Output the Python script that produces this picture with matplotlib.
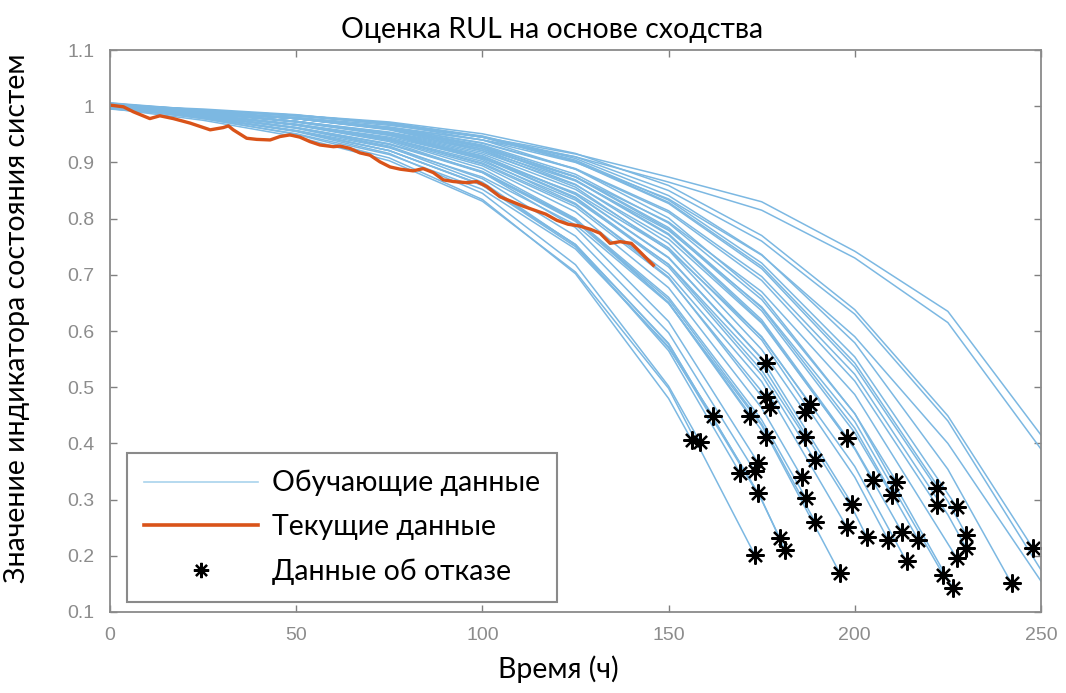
import matplotlib
matplotlib.use('Agg')
import matplotlib.pyplot as plt
from matplotlib.lines import Line2D

# Time grid (hours) at which the training curves were read
grid_t = [0, 25, 50, 75, 100, 125, 150, 175, 200, 225, 250]

# Training runs: values on the grid up to the failure time
train_y = [
    [1.000, .978, .950, .908, .834, .702, .480],
    [.997, .980, .955, .916, .845, .718, .502],
    [1.004, .980, .956, .921, .859, .750, .570],
    [.995, .982, .961, .927, .865, .753, .565],
    [1.002, .985, .967, .939, .889, .800, .650],
    [.998, .982, .961, .929, .871, .769, .597],
    [.996, .975, .946, .903, .831, .705, .498],
    [1.003, .985, .966, .937, .882, .784, .617],
    [.999, .980, .956, .921, .860, .754, .577],
    [1.006, .988, .973, .950, .912, .844, .731],
    [1.001, .985, .967, .942, .897, .821, .694],
    [.997, .983, .962, .932, .882, .795, .651],
    [1.004, .988, .972, .948, .905, .827, .696],
    [.998, .978, .951, .914, .852, .746, .572, .299],
    [1.000, .980, .956, .921, .860, .754, .578, .300],
    [1.002, .985, .967, .940, .894, .812, .677, .463],
    [.998, .988, .972, .950, .909, .838, .718, .530],
    [1.005, .990, .978, .958, .921, .856, .744, .567],
    [.996, .983, .962, .933, .884, .799, .660, .442],
    [1.003, .990, .978, .959, .924, .861, .756, .589],
    [1.000, .988, .972, .949, .908, .836, .714, .522],
    [.997, .983, .962, .933, .883, .797, .656, .435],
    [1.001, .980, .957, .926, .874, .789, .649, .432],
    [1.004, .990, .978, .959, .927, .868, .771, .616],
    [.999, .985, .967, .942, .899, .825, .702, .510],
    [1.002, .988, .973, .950, .911, .843, .730, .551],
    [.998, .985, .968, .943, .902, .833, .719, .541, .276],
    [1.003, .990, .978, .960, .927, .869, .773, .620, .392],
    [1.000, .988, .973, .951, .915, .852, .748, .584, .340],
    [.996, .990, .978, .960, .929, .874, .781, .636, .419],
    [1.005, .993, .983, .968, .940, .888, .801, .662, .453],
    [.998, .988, .973, .952, .918, .860, .764, .614, .390],
    [1.001, .985, .968, .945, .907, .846, .745, .590, .359],
    [1.003, .990, .978, .960, .929, .875, .784, .641, .427],
    [1.006, .993, .983, .970, .945, .901, .827, .711, .536],
    [.999, .990, .978, .962, .934, .888, .811, .690, .511],
    [1.002, .988, .973, .953, .921, .867, .779, .643, .439],
    [.997, .990, .978, .961, .931, .879, .792, .656, .453],
    [1.004, .993, .984, .970, .946, .904, .833, .721, .554],
    [1.000, .988, .973, .954, .924, .874, .794, .670, .487],
    [1.003, .993, .983, .970, .945, .902, .829, .715, .543, .297],
    [.998, .990, .978, .962, .935, .889, .814, .697, .523, .273],
    [1.001, .993, .984, .970, .947, .907, .841, .736, .579, .354],
    [1.004, .993, .984, .972, .951, .916, .859, .770, .638, .449],
]

# Failure points (one per training run above)
fail_t = [156.2, 158.4, 162.0, 169.2, 171.9, 173.2, 173.2, 174.1, 174.1, 176.2,
          176.2, 176.2, 177.2, 179.9, 181.3, 185.7, 186.6, 186.6, 186.9, 188.0,
          189.3, 189.3, 196.0, 197.8, 197.8, 199.2, 203.2, 205.0, 209.0, 209.9,
          211.2, 212.6, 213.9, 217.1, 222.0, 222.0, 223.8, 226.4, 227.4, 227.4,
          230.0, 230.0, 242.1, 247.9]
fail_y = [.406, .403, .448, .347, .448, .350, .201, .365, .311, .543,
          .483, .412, .465, .231, .210, .341, .412, .456, .302, .471,
          .370, .261, .169, .409, .252, .293, .234, .335, .228, .308,
          .332, .243, .190, .228, .320, .290, .166, .142, .287, .196,
          .237, .213, .151, .213]

# Runs that are still going at 250 h
long_y = [
    [1.002, .995, .985, .968, .945, .915, .874, .830, .742, .635, .415],
    [.999, .990, .980, .962, .940, .910, .865, .815, .730, .615, .390],
    [1.000, .990, .978, .963, .940, .900, .835, .735, .590, .400, .155],
    [.996, .990, .980, .966, .945, .910, .850, .760, .630, .440, .175],
]

# Current run
cur_t = [0, 3.6, 6.3, 10.7, 13.4, 17, 21.5, 26.9, 30.4, 31.8, 33.1, 36.7, 39.4,
         43, 45.6, 48.3, 51, 53.7, 56.4, 60, 61.8, 64.4, 67.1, 69.8, 72.5, 75.2,
         77.9, 81.4, 84.1, 86.8, 89.5, 92.2, 95.8, 98.5, 101.2, 104.7, 108, 111,
         114, 117, 120, 123, 126, 129, 131.6, 134.3, 137, 140, 142.3, 145.9]
cur_y = [1.002, .999, .990, .978, .983, .978, .970, .958, .962, .965, .958, .943,
         .941, .940, .946, .949, .945, .937, .931, .928, .929, .925, .917, .913,
         .901, .892, .888, .885, .889, .882, .869, .866, .864, .866, .857, .839,
         .830, .822, .815, .808, .797, .790, .787, .781, .774, .756, .759, .756,
         .741, .717]

blue = '#7cb8e2'
orange = '#d95319'
star = (8, 2, 0)
label_font = ['Lato', 'DejaVu Sans']

fig = plt.figure(figsize=(10.66, 6.93), dpi=100)
ax = fig.add_axes([0.1032, 0.1169, 0.8733, 0.8109])

for vals, te, ye in zip(train_y, fail_t, fail_y):
    ax.plot(grid_t[:len(vals)] + [te], vals + [ye], color=blue, linewidth=1.1)
for vals in long_y:
    ax.plot(grid_t, vals, color=blue, linewidth=1.1)

ax.plot(cur_t, cur_y, color=orange, linewidth=2.4)
ax.plot(fail_t, fail_y, linestyle='none', marker=star, markersize=13,
        markeredgewidth=1.6, color='black')

ax.set_xlim(0, 250)
ax.set_ylim(0.1, 1.1)
ax.set_xticks([0, 50, 100, 150, 200, 250])
ax.set_yticks([0.1, 0.2, 0.3, 0.4, 0.5, 0.6, 0.7, 0.8, 0.9, 1.0, 1.1])
ax.set_yticklabels(['0.1', '0.2', '0.3', '0.4', '0.5', '0.6', '0.7', '0.8',
                    '0.9', '1', '1.1'])
ax.tick_params(direction='in', length=5, width=1, color='#808080',
               labelcolor='#8c8c8c', labelsize=14, top=True, right=True, pad=11)
for lab in ax.get_xticklabels() + ax.get_yticklabels():
    lab.set_fontfamily('Liberation Sans')
for sp in ax.spines.values():
    sp.set_color('#8a8a8a')
    sp.set_linewidth(1.3)

ax.set_title('Оценка RUL на основе сходства', fontsize=20.5, family=label_font,
             pad=9, x=0.475)
ax.set_xlabel('Время (ч)', fontsize=20.5, family=label_font, va='top')
ax.set_ylabel('Значение индикатора состояния систем', fontsize=20.5,
              family=label_font)
ax.xaxis.set_label_coords(0.482, -0.0765)
ax.yaxis.set_label_coords(-0.086, 0.523)

handles = [Line2D([], [], color='#a9d3ec', linewidth=1.2),
           Line2D([], [], color=orange, linewidth=2.6),
           Line2D([], [], linestyle='none', marker=star, markersize=11,
                  markeredgewidth=1.6, color='black')]
leg = ax.legend(handles, ['Обучающие данные', 'Текущие данные', 'Данные об отказе'],
                loc='lower left', bbox_to_anchor=(0.018, 0.018), borderaxespad=0,
                fancybox=False, framealpha=1, edgecolor='#8a8a8a',
                prop={'family': label_font, 'size': 20.5}, handlelength=4.0,
                handletextpad=0.5, labelspacing=0.63, borderpad=0.6)
leg.get_frame().set_linewidth(1.5)

fig.savefig('out.png', dpi=100)
